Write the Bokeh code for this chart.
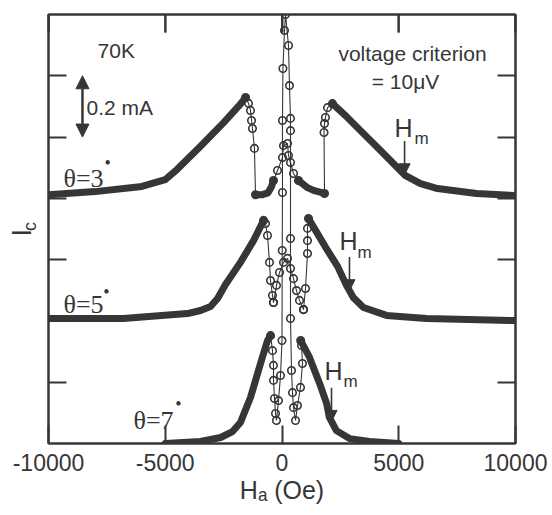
import numpy as np
from bokeh.plotting import figure
from bokeh.models import Range1d, LinearAxis, FixedTicker, Label, Arrow, NormalHead
from bokeh.embed import file_html
from bokeh.resources import INLINE

# Critical current Ic vs applied field Ha at 70 K, three tilt angles.
# Curves are shifted vertically for clarity (values below include the shift, mA).
# "band" = densely sampled sweep, "open" = sparsely sampled points (open circles).

# theta = 3 deg
h3_band_left = [-10000, -8000, -6000, -5000, -4500, -3500, -2500, -1800, -1560]
ic3_band_left = [0.812, 0.822, 0.839, 0.861, 0.894, 0.969, 1.047, 1.106, 1.129]
h3_open_fall = [-1560, -1435, -1350, -1305, -1265, -1180, -1135]
ic3_open_fall = [1.129, 1.110, 1.087, 1.054, 1.028, 0.963, 0.812]
h3_band_floor = [-1135, -835, -600, -450, -364]
ic3_band_floor = [0.812, 0.812, 0.818, 0.838, 0.858]
h3_open_center = [-364, -193, 21, 64, 236, 278, 364, 493, 707]
ic3_open_center = [0.858, 0.891, 0.933, 0.972, 0.979, 0.940, 0.917, 0.881, 0.858]
h3_band_floor2 = [707, 1092, 1349, 1820]
ic3_band_floor2 = [0.858, 0.835, 0.826, 0.816]
h3_open_rise = [1820, 1800, 1820, 1860, 1950, 2160]
ic3_open_rise = [0.816, 1.015, 1.044, 1.064, 1.096, 1.109]
h3_band_right = [2160, 2720, 3362, 4219, 5290, 5932, 6660, 8330, 10000]
ic3_band_right = [1.109, 1.070, 1.021, 0.956, 0.874, 0.848, 0.832, 0.816, 0.809]

# theta = 5 deg
h5_band_left = [-10000, -6800, -4050, -3490, -3060, -2760, -2420, -1780, -1220, -790]
ic5_band_left = [0.408, 0.408, 0.424, 0.434, 0.447, 0.473, 0.519, 0.591, 0.662, 0.728]
h5_open_fall = [-790, -707, -621, -535, -493, -407, -364]
ic5_open_fall = [0.728, 0.718, 0.679, 0.591, 0.532, 0.483, 0.460]
h5_open_center = [-364, -236, -107, 64, 236, 364, 493, 621, 750, 921]
ic5_open_center = [0.460, 0.516, 0.558, 0.591, 0.604, 0.571, 0.538, 0.499, 0.467, 0.437]
h5_open_rise = [921, 1006, 1092, 1092, 1092, 1135]
ic5_open_rise = [0.437, 0.506, 0.620, 0.662, 0.702, 0.734]
h5_band_right = [1135, 1520, 1950, 2380, 2760, 3060, 3490, 4475, 6190, 10000]
ic5_band_right = [0.734, 0.685, 0.630, 0.578, 0.516, 0.476, 0.444, 0.418, 0.408, 0.401]

# theta = 7 deg
h7_band_left = [-5000, -3490, -2630, -2120, -1780, -1350, -920, -620, -490]
ic7_band_left = [0.0, 0.0065, 0.0196, 0.039, 0.0685, 0.150, 0.261, 0.336, 0.352]
h7_open_center = [-490, -407, -364, -364, -321, -278, -236, -150, -64, 0, 10, 20, 20, 40, 107, 150,
                  278, 321, 364, 364, 364, 364, 407, 450, 493, 578, 664, 792, 878, 835, 800]
ic7_open_center = [0.352, 0.303, 0.255, 0.206, 0.147, 0.098, 0.075, 0.140, 0.222, 0.336, 0.630, 0.819,
                   1.054, 1.224, 1.348, 1.400, 1.299, 1.168, 1.061, 1.021, 0.669, 0.408, 0.238, 0.166,
                   0.117, 0.075, 0.124, 0.183, 0.261, 0.320, 0.336]
h7_band_right = [800, 1180, 1610, 1910, 2030, 2330, 2890, 3750, 5000]
ic7_band_right = [0.336, 0.281, 0.196, 0.131, 0.085, 0.042, 0.016, 0.0065, 0.0]

# Hm (field of the kink) for 3, 5, 7 deg
hm_field = [5250, 2890, 2120]

x_ticks = [-10000, -5000, 0, 5000, 10000]
x_tick_labels = ["-10000", "-5000", "0", "5000", "10000"]
y_ticks = [0.2, 0.4, 0.6, 0.8, 1.0, 1.2]

INK = "#363636"
SANS = "Liberation Sans"
SERIF = "Liberation Serif"
NBSP = "\u00a0"
Y_MAX = 1.4
TICK_LEN = 18 / 61.3 * 0.2  # 18 px inward tick, in mA

p = figure(width=552, height=515, x_range=Range1d(-10000, 10000), y_range=Range1d(0, Y_MAX),
           output_backend="svg", toolbar_location=None,
           min_border_left=48, min_border_right=37, min_border_top=14, min_border_bottom=72)
p.title_location = None
p.xgrid.visible = False
p.ygrid.visible = False
p.background_fill_color = "white"
p.border_fill_color = "white"
p.outline_line_color = INK
p.outline_line_width = 2


def style_axis(ax, ticks, labels=None):
    ax.ticker = FixedTicker(ticks=ticks)
    ax.major_tick_in = 18
    ax.major_tick_out = 0
    ax.minor_tick_in = 0
    ax.minor_tick_out = 0
    ax.major_tick_line_color = INK
    ax.major_tick_line_width = 2
    ax.axis_line_color = INK
    ax.axis_line_width = 2
    ax.axis_label_text_font = SANS
    ax.axis_label_text_font_style = "normal"
    ax.axis_label_text_color = INK
    if labels is None:
        ax.major_label_overrides = {t: "" for t in ticks}
        ax.major_label_text_font_size = "1px"
        ax.major_label_standoff = 0
    else:
        ax.major_label_overrides = dict(zip(ticks, labels))
        ax.major_label_text_font = SANS
        ax.major_label_text_font_size = "23px"
        ax.major_label_text_color = INK
        ax.major_label_standoff = 10


# bottom axis with tick labels and the field title
style_axis(p.xaxis[0], x_ticks, x_tick_labels)
p.xaxis[0].axis_label = "H\u2090 (Oe)"
p.xaxis[0].axis_label_text_font_size = "25px"
p.xaxis[0].axis_label_standoff = 2

# left axis carries the subscript "c"; an outer left axis carries the "I"
style_axis(p.yaxis[0], y_ticks)
p.yaxis[0].axis_label = NBSP + "c"
p.yaxis[0].axis_label_text_font_size = "18px"
p.yaxis[0].axis_label_standoff = 9
outer_left = LinearAxis()
style_axis(outer_left, [])
outer_left.axis_line_color = None
outer_left.axis_label = "I" + NBSP
outer_left.axis_label_text_font_size = "27px"
outer_left.axis_label_standoff = -20
p.add_layout(outer_left, "left")

top_axis = LinearAxis()
style_axis(top_axis, [float(t) for t in x_ticks])
p.add_layout(top_axis, "above")
right_axis = LinearAxis()
style_axis(right_axis, y_ticks)
p.add_layout(right_axis, "right")

# inward tick marks along the top edge, at the same field values as the bottom ticks
p.segment(x0=x_ticks, y0=[Y_MAX] * len(x_ticks), x1=x_ticks,
          y1=[Y_MAX - TICK_LEN] * len(x_ticks), line_color=INK, line_width=2)


def band(h, ic):
    p.line(h, ic, line_width=7, line_color=INK, line_join="round", line_cap="round")


def open_pts(h, ic):
    p.line(h, ic, line_width=1.1, line_color=INK)
    p.scatter(h, ic, marker="circle", size=7.5, fill_color=None, line_color=INK, line_width=1.6)


for h, ic in [(h3_band_left, ic3_band_left), (h3_band_floor, ic3_band_floor),
              (h3_band_floor2, ic3_band_floor2), (h3_band_right, ic3_band_right),
              (h5_band_left, ic5_band_left), (h5_band_right, ic5_band_right),
              (h7_band_left, ic7_band_left), (h7_band_right, ic7_band_right)]:
    band(h, ic)

for h, ic in [(h3_open_fall, ic3_open_fall), (h3_open_center, ic3_open_center),
              (h3_open_rise, ic3_open_rise),
              (h5_open_fall, ic5_open_fall), (h5_open_center, ic5_open_center),
              (h5_open_rise, ic5_open_rise),
              (h7_open_center, ic7_open_center)]:
    open_pts(h, ic)


def label(x, y, text, size, font=SANS, align="left"):
    p.add_layout(Label(x=x, y=y, text=text, text_font=font, text_font_size=size,
                       text_color=INK, text_align=align, text_baseline="middle"))


# Hm arrows pointing at the kink of each curve
right_bands = [(h3_band_right, ic3_band_right), (h5_band_right, ic5_band_right),
               (h7_band_right, ic7_band_right)]
hm_label_pos = [(4818, 1.028, 5675, 0.995), (2463, 0.662, 3233, 0.623), (1820, 0.235, 2634, 0.202)]
for hm, (hb, icb), (hx, hy, mx, my) in zip(hm_field, right_bands, hm_label_pos):
    tip = float(np.interp(hm, hb, icb))
    p.add_layout(Arrow(end=NormalHead(size=11, fill_color=INK, line_color=INK),
                       x_start=hm, y_start=tip + 0.11, x_end=hm, y_end=tip,
                       line_color=INK, line_width=1.6))
    label(hx, hy, "H", "25px")
    label(mx, my, "m", "17px")

# 0.2 mA scale bar
p.add_layout(Arrow(start=NormalHead(size=13, fill_color=INK, line_color=INK),
                   end=NormalHead(size=13, fill_color=INK, line_color=INK),
                   x_start=-8545, y_start=1.0, x_end=-8545, y_end=1.2,
                   line_color=INK, line_width=2.5))
label(-8370, 1.096, "0.2 mA", "21px")
label(-7900, 1.282, "70K", "21px")
label(5590, 1.272, "voltage criterion", "21px", align="center")
label(5290, 1.181, "= 10\u03bcV", "21px", align="center")

# angle labels
for tx, ty, dx, dy, txt in [(-9360, 0.865, -7470, 0.914, "\u03b8=3"),
                            (-9360, 0.4535, -7516, 0.496, "\u03b8=5"),
                            (-6360, 0.075, -4433, 0.1305, "\u03b8=7")]:
    label(tx, ty, txt, "26px", font=SERIF)
    label(dx, dy, "\u2022", "18px", font=SERIF, align="center")

open("out.html", "w").write(file_html(p, INLINE))
